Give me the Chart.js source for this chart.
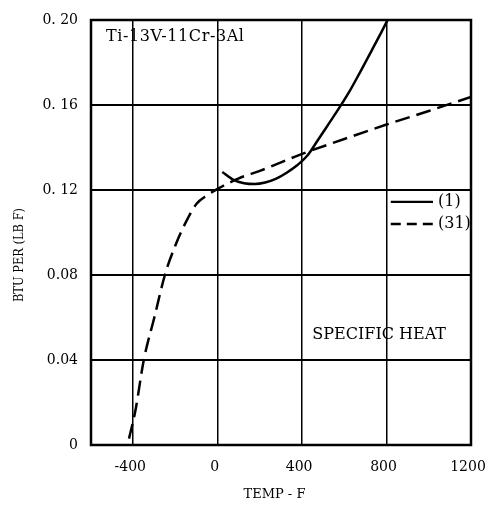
<!DOCTYPE html>
<html>
<head>
<meta charset="utf-8">
<script src="https://cdn.jsdelivr.net/npm/chart.js@4"></script>
<style>
html,body{margin:0;padding:0;background:#fff;}
#wrap{position:relative;width:494px;height:506px;}
</style>
</head>
<body>
<div id="wrap"><canvas id="c" width="494" height="506"></canvas></div>
<script>
// ---- data ----
const seriesNames = ["(1)", "(31)"];
const solidTemps = [22, 75, 125, 175, 225, 275, 325, 375, 425, 475, 525, 575, 625, 675, 725, 775, 805];
const solidVals  = [0.1285, 0.1248, 0.1232, 0.1228, 0.1235, 0.1252, 0.128, 0.1315, 0.1362, 0.1435, 0.151, 0.1585, 0.1665, 0.1755, 0.1848, 0.1942, 0.2];
const dashTemps = [-420, -390, -350, -300, -250, -200, -150, -100, -50, 0, 100, 200, 400, 600, 800, 1000, 1200];
const dashVals  = [0.003, 0.016, 0.040, 0.060, 0.080, 0.094, 0.105, 0.1135, 0.1175, 0.1205, 0.1255, 0.129, 0.137, 0.144, 0.1508, 0.1572, 0.1638];
const xTickVals = [-400, 0, 400, 800, 1200];
const xTickLabels = ["-400", "0", "400", "800", "1200"];
const yTickVals = [0, 0.04, 0.08, 0.12, 0.16, 0.20];
const yTickLabels = ["0", "0.04", "0.08", "0. 12", "0. 16", "0. 20"];
const xTitle = "TEMP - F";
const yTitle = "BTU PER (LB F)";
const alloyLabel = "Ti-13V-11Cr-3Al";
const propLabel = "SPECIFIC HEAT";

const toPts = (xs, ys) => xs.map((x, i) => ({x: x, y: ys[i]}));

const serif = "'DejaVu Serif', 'Liberation Serif', serif";

const annot = {
  id: 'annot',
  afterDraw(chart) {
    const ctx = chart.ctx, a = chart.chartArea;
    const xs = chart.scales.x, ys = chart.scales.y;
    ctx.save();
    // frame
    ctx.strokeStyle = '#000';
    ctx.lineWidth = 2.5;
    ctx.strokeRect(a.left, a.top, a.right - a.left, a.bottom - a.top);
    ctx.fillStyle = '#000';
    // alloy label
    ctx.font = '16px ' + serif;
    ctx.textBaseline = 'middle';
    ctx.textAlign = 'left';
    try { ctx.letterSpacing = '0.6px'; } catch (e) {}
    ctx.fillText(alloyLabel, a.left + 15, a.top + 17);
    try { ctx.letterSpacing = '0px'; } catch (e) {}
    // property label
    ctx.textAlign = 'center';
    ctx.fillText(propLabel, xs.getPixelForValue(765), ys.getPixelForValue(0.0518));
    // legend
    const lx0 = xs.getPixelForValue(820), lx1 = xs.getPixelForValue(1020);
    const ly1 = ys.getPixelForValue(0.1144), ly2 = ys.getPixelForValue(0.104);
    ctx.lineWidth = 2.3;
    ctx.beginPath(); ctx.moveTo(lx0, ly1); ctx.lineTo(lx1, ly1); ctx.stroke();
    ctx.setLineDash([10, 6]);
    ctx.beginPath(); ctx.moveTo(lx0, ly2); ctx.lineTo(lx1, ly2); ctx.stroke();
    ctx.setLineDash([]);
    ctx.textAlign = 'left';
    ctx.font = '16px ' + serif;
    ctx.fillText(seriesNames[0], lx1 + 5, ly1);
    ctx.fillText(seriesNames[1], lx1 + 5, ly2);
    // axis titles
    ctx.font = '13px ' + serif;
    ctx.textAlign = 'center';
    ctx.fillText(xTitle, xs.getPixelForValue(269), 495);
    ctx.save();
    ctx.translate(20, ys.getPixelForValue(0.0894));
    ctx.rotate(-Math.PI / 2);
    ctx.scale(0.88, 1);
    ctx.font = '13px ' + serif;
    ctx.fillText(yTitle, 0, 0);
    ctx.restore();
    ctx.restore();
  }
};

new Chart(document.getElementById('c'), {
  type: 'line',
  data: {
    datasets: [
      {
        label: seriesNames[0],
        data: toPts(solidTemps, solidVals),
        borderColor: '#000',
        borderWidth: 2.5,
        pointRadius: 0,
        cubicInterpolationMode: 'monotone',
        fill: false
      },
      {
        label: seriesNames[1],
        data: toPts(dashTemps, dashVals),
        borderColor: '#000',
        borderWidth: 2.5,
        borderDash: [15, 7],
        pointRadius: 0,
        cubicInterpolationMode: 'monotone',
        fill: false
      }
    ]
  },
  options: {
    responsive: false,
    animation: false,
    layout: { padding: { left: 0, top: 20, right: 23, bottom: 0 } },
    plugins: { legend: { display: false }, tooltip: { enabled: false } },
    scales: {
      x: {
        type: 'linear',
        min: -600, max: 1200,
        afterBuildTicks: s => { s.ticks = xTickVals.map(v => ({value: v})); },
        afterFit: s => { s.height = 61; s.paddingLeft = 0; s.paddingRight = 0; },
        grid: { color: '#000', lineWidth: 1.5, drawTicks: false },
        border: { display: false },
        ticks: {
          color: '#000',
          padding: 14,
          labelOffset: -3,
          font: { family: serif, size: 14 },
          callback: (v) => { const i = xTickVals.indexOf(v); return i >= 0 ? xTickLabels[i] : ''; }
        }
      },
      y: {
        type: 'linear',
        min: 0, max: 0.2,
        afterBuildTicks: s => { s.ticks = yTickVals.map(v => ({value: v})); },
        afterFit: s => { s.width = 91; s.paddingTop = 0; s.paddingBottom = 0; },
        grid: { color: '#000', lineWidth: 2, drawTicks: false },
        border: { display: false },
        ticks: {
          color: '#000',
          padding: 13,
          font: { family: serif, size: 14 },
          callback: (v) => { const i = yTickVals.findIndex(t => Math.abs(t - v) < 1e-9); return i >= 0 ? yTickLabels[i] : ''; }
        }
      }
    }
  },
  plugins: [annot]
});
</script>
</body>
</html>
